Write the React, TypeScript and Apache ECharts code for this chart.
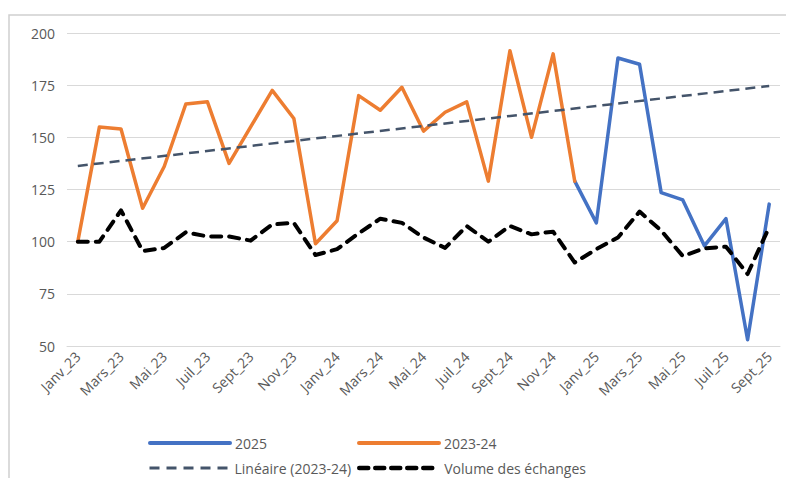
import React, { useEffect, useRef } from "react";
import * as echarts from "echarts";

const months = [
  "Janv_23", "Févr_23", "Mars_23", "Avr_23", "Mai_23", "Juin_23", "Juil_23", "Août_23", "Sept_23", "Oct_23", "Nov_23", "Déc_23",
  "Janv_24", "Févr_24", "Mars_24", "Avr_24", "Mai_24", "Juin_24", "Juil_24", "Août_24", "Sept_24", "Oct_24", "Nov_24", "Déc_24",
  "Janv_25", "Févr_25", "Mars_25", "Avr_25", "Mai_25", "Juin_25", "Juil_25", "Août_25", "Sept_25",
];

const serie2023_24 = [
  100, 155, 154, 116, 136, 166, 167, 137.5, 155, 172.5, 159, 99,
  110, 170, 163, 174, 153, 162, 167, 129, 191.5, 150, 190, 129,
  null, null, null, null, null, null, null, null, null,
];

const serie2025 = [
  null, null, null, null, null, null, null, null, null, null, null, null,
  null, null, null, null, null, null, null, null, null, null, null, 129,
  109, 188, 185, 123.5, 120, 98, 111, 53, 118,
];

const volumeEchanges = [
  100, 100, 115, 95.5, 97, 104.5, 102.5, 102.5, 100.5, 108.3, 109, 93.6,
  96.4, 104, 111, 109, 102, 97, 107.5, 100, 107.5, 103.5, 104.8, 90,
  96.4, 102, 114.4, 105.3, 93.1, 96.8, 97.6, 84.5, 107,
];

// Endpoints of the Excel linear trendline (2023-24)
const trendStart = 136.3;
const trendEnd = 174.6;

const yTicks = { min: 50, max: 200, interval: 25 };

const FONT = '"Open Sans", "Liberation Sans", sans-serif';
const TEXT = "#595959";

const BLUE = "#4472C4";
const ORANGE = "#ED7D31";
const SLATE = "#44546A";
const BLACK = "#000000";

export default function App() {
  const ref = useRef<HTMLDivElement>(null);

  useEffect(() => {
    if (!ref.current) return;
    const chart = echarts.init(ref.current, null, { renderer: "svg" });
    const legendBase = {
      orient: "horizontal",
      padding: 0,
      itemWidth: 80,
      itemHeight: 14,
      itemStyle: { opacity: 0, borderWidth: 0 },
      textStyle: { color: TEXT, fontSize: 14, fontFamily: FONT },
      selectedMode: false,
    };
    chart.setOption({
      animation: false,
      backgroundColor: "#ffffff",
      textStyle: { fontFamily: FONT },
      graphic: [
        {
          type: "rect",
          shape: { x: 9, y: 15, width: 820, height: 520 },
          style: { fill: "none", stroke: "#d0d0d0", lineWidth: 1.5 },
          silent: true,
          z: -10,
        },
      ],
      grid: { left: 67, right: 6, top: 33, bottom: 132 },
      legend: [
        {
          ...legendBase,
          data: ["2025"],
          left: 148,
          top: 436,
          lineStyle: { color: BLUE, width: 4, cap: "round" },
        },
        {
          ...legendBase,
          data: ["2023-24"],
          left: 357,
          top: 436,
          lineStyle: { color: ORANGE, width: 4, cap: "round" },
        },
        {
          ...legendBase,
          data: ["Linéaire (2023-24)"],
          left: 148,
          top: 461,
          lineStyle: { color: SLATE, width: 3, type: [10, 7] },
        },
        {
          ...legendBase,
          data: ["Volume des échanges"],
          left: 357,
          top: 461,
          lineStyle: { color: BLACK, width: 4.5, type: [9, 7], cap: "round" },
        },
      ],
      xAxis: {
        type: "category",
        data: months,
        boundaryGap: true,
        axisLine: { show: true, lineStyle: { color: "#d9d9d9", width: 1 } },
        axisTick: { show: false },
        axisLabel: {
          interval: 1,
          rotate: 45,
          margin: 8,
          color: TEXT,
          fontSize: 14,
          fontFamily: FONT,
        },
      },
      yAxis: {
        type: "value",
        min: yTicks.min,
        max: yTicks.max,
        interval: yTicks.interval,
        axisLine: { show: false },
        axisTick: { show: false },
        axisLabel: { color: TEXT, fontSize: 14, fontFamily: FONT, margin: 12 },
        splitLine: { lineStyle: { color: "#d9d9d9", width: 1 } },
      },
      series: [
        {
          name: "2025",
          type: "line",
          data: serie2025,
          symbol: "none",
          showSymbol: false,
          lineStyle: { color: BLUE, width: 3.5, join: "round", cap: "round" },
          itemStyle: { color: BLUE },
          z: 2,
        },
        {
          name: "2023-24",
          type: "line",
          data: serie2023_24,
          symbol: "none",
          showSymbol: false,
          lineStyle: { color: ORANGE, width: 3.5, join: "round", cap: "round" },
          itemStyle: { color: ORANGE },
          z: 3,
        },
        {
          name: "Volume des échanges",
          type: "line",
          data: volumeEchanges,
          symbol: "none",
          showSymbol: false,
          lineStyle: { color: BLACK, width: 4, type: [10, 8], cap: "round", join: "round" },
          itemStyle: { color: BLACK },
          z: 4,
        },
        {
          name: "Linéaire (2023-24)",
          type: "line",
          data: [
            [months[0], trendStart],
            [months[months.length - 1], trendEnd],
          ],
          symbol: "none",
          showSymbol: false,
          lineStyle: { color: SLATE, width: 2.5, type: [10, 6] },
          itemStyle: { color: SLATE },
          z: 5,
        },
      ],
    });
    return () => chart.dispose();
  }, []);

  return (
    <div
      ref={ref}
      style={{ position: "fixed", left: 0, top: 0, width: 786, height: 478 }}
    />
  );
}
